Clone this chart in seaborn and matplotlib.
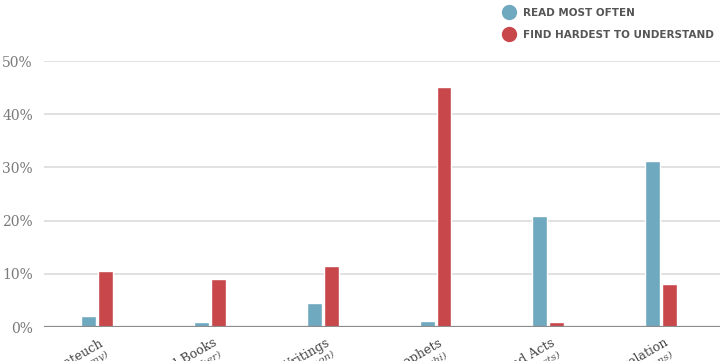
import matplotlib
matplotlib.use("Agg")
import matplotlib.pyplot as plt
import matplotlib.transforms as mtransforms
from matplotlib.lines import Line2D
import seaborn as sns
import pandas as pd

categories = ["Pentateuch", "Historical Books", "Wisdom Writings", "Prophets", "Gospels and Acts", "Epistles and Revelation"]
subtitles = ["(Genesis–Deuteronomy)", "(Joshua–Esther)", "(Job–Song of Solomon)", "(Isaiah–Malachi)", "(Matthew–Acts)", "(Romans–Revelations)"]
read_most_often = [2.1, 0.9, 4.5, 1.1, 20.9, 31.2]
hardest_to_understand = [10.5, 9.0, 11.5, 45.1, 0.9, 8.1]
series_names = ["READ MOST OFTEN", "FIND HARDEST TO UNDERSTAND"]
yticks = [0, 10, 20, 30, 40, 50]
ytick_labels = ["0%", "10%", "20%", "30%", "40%", "50%"]

colors = ["#6fa9bf", "#c8474b"]

df = pd.DataFrame({
    "category": categories * 2,
    "value": read_most_often + hardest_to_understand,
    "series": [series_names[0]] * 6 + [series_names[1]] * 6,
})

sns.set_theme(style="white")
fig = plt.figure(figsize=(7.22, 3.61), dpi=100)
ax = fig.add_axes([0.061, 0.094, 0.936, 0.737])

sns.barplot(data=df, x="category", y="value", hue="series", palette=colors,
            width=0.30, gap=0.12, ax=ax, legend=False, saturation=1)

ax.set_xlim(-0.47, 5.52)
ax.set_ylim(0, 50)
ax.set_yticks(yticks)
ax.set_yticklabels(ytick_labels, family="DejaVu Serif", color="#7a7a7a", fontsize=10)
ax.set_xlabel("")
ax.set_ylabel("")
ax.set_xticks(range(len(categories)))
ax.set_xticklabels([])
ax.tick_params(axis="both", length=0, pad=8)
for s in ax.spines.values():
    s.set_visible(False)
ax.set_axisbelow(True)
ax.yaxis.grid(True, color="#dcdcdc", linewidth=1.2)
ax.axhline(0, color="#8c8c8c", linewidth=1.6, zorder=5)

trans = mtransforms.blended_transform_factory(ax.transData, ax.transAxes)
for i, (c, s) in enumerate(zip(categories, subtitles)):
    ax.text(i + 0.02, -0.035, c, transform=trans, rotation=30, ha="right", va="top",
            rotation_mode="anchor", family="DejaVu Serif", fontsize=9, color="#444444")
    ax.text(i + 0.08, -0.085, s, transform=trans, rotation=30, ha="right", va="top",
            rotation_mode="anchor", family="DejaVu Serif", style="italic", fontsize=7.5, color="#555555")

handles = [Line2D([0], [0], marker="o", linestyle="", markersize=10,
                  markerfacecolor=col, markeredgecolor=col) for col in colors]
leg = fig.legend(handles, series_names, loc="upper left", bbox_to_anchor=(0.677, 1.004),
                 frameon=False, handletextpad=0.35, labelspacing=1.15,
                 prop={"family": "DejaVu Sans", "weight": "bold", "size": 7.5})
for t in leg.get_texts():
    t.set_color("#555555")

fig.savefig("out.png", dpi=100)
